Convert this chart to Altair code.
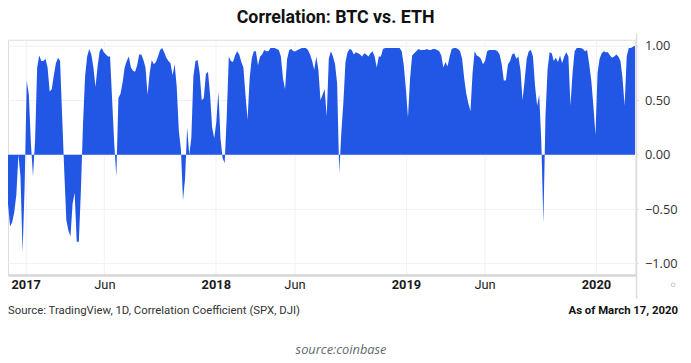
import altair as alt
import pandas as pd

# ---------------- data ----------------
start_date = "2016-11-28"
step = "4D"

corr_2016_2017 = [
    -0.45, -0.66, -0.62, -0.53, -0.37, 0.00, -0.20, -0.90, -0.28, 0.68,
    0.55, 0.10, -0.20, 0.13, 0.80, 0.91, 0.86, 0.86, 0.88, 0.80,
    0.58, 0.60, 0.73, 0.84, 0.89, 0.86, 0.35, -0.15, -0.60, -0.70,
    -0.75, -0.45, -0.35, -0.80, -0.80, -0.33, 0.28, 0.72, 0.90, 0.97,
    0.92, 0.80, 0.62, 0.81, 0.95, 0.98, 0.94, 0.92, 0.90, 0.90,
    0.50, 0.10, -0.20, 0.52, 0.56, 0.66, 0.80, 0.86, 0.90, 0.80,
    0.77, 0.76, 0.82, 0.92, 0.92, 0.87, 0.80, 0.55, 0.75, 0.87,
    0.83, 0.85, 0.90, 0.96, 0.98, 0.94, 0.89, 0.86, 0.84, 0.73,
    0.83, 0.62, 0.22, 0.05, -0.42, -0.22, 0.25, 0.00, 0.15, 0.72,
    0.86, 0.87, 0.75, 0.50, 0.52, 0.74, 0.76, 0.55, 0.25, 0.15,
]
corr_2018 = [
    0.30, 0.58, 0.15, -0.03, -0.08, 0.35, 0.90, 0.86, 0.85, 0.91,
    0.95, 0.92, 0.85, 0.80, 0.55, 0.32, 0.70, 0.88, 0.95, 0.95,
    0.82, 0.90, 0.92, 0.96, 0.95, 0.95, 0.98, 0.98, 0.98, 0.97,
    0.96, 0.90, 0.70, 0.60, 0.88, 0.96, 0.97, 0.95, 0.95, 0.96,
    0.97, 0.98, 0.98, 0.98, 0.96, 0.92, 0.86, 0.78, 0.90, 0.78,
    0.50, 0.55, 0.60, 0.35, 0.88, 0.95, 0.90, 0.83, 0.65, -0.17,
    0.20, 0.48, 0.85, 0.94, 0.97, 0.96, 0.92, 0.94, 0.93, 0.92,
    0.90, 0.93, 0.92, 0.90, 0.93, 0.95, 0.90, 0.80, 0.90, 0.90,
    0.97, 0.98, 0.98, 0.98, 0.98, 0.98, 0.98, 0.98, 0.98, 0.95,
]
corr_2019 = [
    0.82, 0.60, 0.34, 0.70, 0.91, 0.93, 0.95, 0.97, 0.96, 0.96,
    0.96, 0.97, 0.96, 0.96, 0.97, 0.97, 0.96, 0.95, 0.91, 0.80,
    0.85, 0.81, 0.90, 0.97, 0.98, 0.98, 0.97, 0.95, 0.88, 0.70,
    0.56, 0.47, 0.40, 0.75, 0.95, 0.91, 0.90, 0.88, 0.83, 0.86,
    0.95, 0.96, 0.96, 0.96, 0.96, 0.95, 0.92, 0.83, 0.68, 0.68,
    0.83, 0.86, 0.92, 0.93, 0.88, 0.90, 0.78, 0.50, 0.68, 0.88,
    0.95, 0.96, 0.90, 0.63, 0.45, 0.55, 0.12, -0.63, 0.35, 0.78,
    0.94, 0.93, 0.86, 0.89, 0.85, 0.91, 0.84, 0.90, 0.94, 0.90,
    0.45, 0.75, 0.95, 0.98, 0.98, 0.98, 0.97, 0.95, 0.96, 0.83,
    0.68, 0.45, 0.18,
]
corr_2020 = [
    0.75, 0.88, 0.93, 0.95, 0.94, 0.94, 0.91,
    0.89, 0.90, 0.92, 0.90, 0.86, 0.70, 0.45, 0.90, 0.98, 0.98,
    0.99, 1.00,
]

y_ticks = [-1.0, -0.5, 0.0, 0.5, 1.0]
x_tick_dates = [(2017, 1), (2017, 6), (2018, 1), (2018, 6), (2019, 1), (2019, 6), (2020, 1)]
x_domain = [(2016, 11, 28), (2020, 3, 17)]
y_domain = [-1.105, 1.055]

title_text = "Correlation: BTC vs. ETH"
source_text = "Source: TradingView, 1D, Correlation Coefficient (SPX, DJI)"
asof_text = "As of March 17, 2020"
credit_text = "source:coinbase"

# ---------------- build ----------------
corr = corr_2016_2017 + corr_2018 + corr_2019 + corr_2020
dates = pd.date_range(start_date, periods=len(corr), freq=step).strftime("%Y-%m-%dT00:00:00")
df = pd.DataFrame({"date": list(dates), "corr": corr})

W, H = 635, 238
BLUE = "#2257e6"
GRID = "#eef1f5"

x_scale = alt.Scale(
    domain=[alt.DateTime(year=y, month=m, date=d) for (y, m, d) in x_domain],
    nice=False,
)
y_scale = alt.Scale(domain=y_domain, nice=False, zero=False)

x_axis = alt.Axis(
    values=[alt.DateTime(year=y, month=m, date=1) for (y, m) in x_tick_dates],
    labelExpr="month(datum.value) == 0 ? timeFormat(datum.value, '%Y') : timeFormat(datum.value, '%b')",
    labelFontWeight={"condition": {"test": "month(datum.value) == 0", "value": "bold"}, "value": "normal"},
    labelFont="Roboto",
    labelFontSize=13,
    labelColor="#1a1a1a",
    labelPadding=4,
    labelFlush=False,
    labelOverlap=False,
    ticks=False,
    grid=True,
    gridColor=GRID,
    domainColor="#d6d6d6",
    domainWidth=2.5,
    title=None,
)
y_axis = alt.Axis(
    orient="right",
    values=y_ticks,
    format=".2f",
    labelFont="Open Sans",
    labelFontSize=13,
    labelColor="#333333",
    labelPadding=6,
    tickSize=3,
    tickColor="#dddddd",
    domain=False,
    grid=True,
    gridColor=GRID,
    title=None,
)

area = alt.Chart(df).mark_area(color=BLUE, opacity=1).encode(
    x=alt.X("date:T", scale=x_scale, axis=x_axis),
    y=alt.Y("corr:Q", scale=y_scale, axis=y_axis),
)

one = pd.DataFrame({"t": [0]})

right_rule = alt.Chart(one).mark_rule(color="#dcdcdc", strokeWidth=1.5).encode(
    x=alt.value(W + 1), y=alt.value(-6), y2=alt.value(262)
)

dot = alt.Chart(one).mark_point(shape="circle", filled=False, size=14, color="#b0b0b0", strokeWidth=1).encode(
    x=alt.value(673), y=alt.value(248)
)

src = alt.Chart(pd.DataFrame({"t": [source_text]})).mark_text(
    align="left", baseline="middle", font="Roboto", fontSize=11.5, color="#333333"
).encode(text="t:N", x=alt.value(0), y=alt.value(274))

asof = alt.Chart(pd.DataFrame({"t": [asof_text]})).mark_text(
    align="right", baseline="middle", font="Roboto", fontSize=11.5, fontWeight="bold", color="#111111"
).encode(text="t:N", x=alt.value(678), y=alt.value(274))

credit = alt.Chart(pd.DataFrame({"t": [credit_text]})).mark_text(
    align="center", baseline="middle", font="Open Sans", fontSize=13, fontStyle="italic", color="#626a76"
).encode(text="t:N", x=alt.value(337), y=alt.value(314))

chart = alt.layer(area, right_rule, dot, src, asof, credit).properties(
    width=W,
    height=H,
    title=alt.TitleParams(
        title_text, font="Roboto", fontSize=18, fontWeight="bold", color="#111111",
        anchor="middle", offset=6, dx=14,
    ),
    autosize=alt.AutoSizeParams(type="none"),
    padding={"left": 0, "top": 30, "right": 48, "bottom": 90},
).configure_view(stroke=None).configure(background="white")

chart.save("out.html", embed_options={"renderer": "svg", "actions": False})
